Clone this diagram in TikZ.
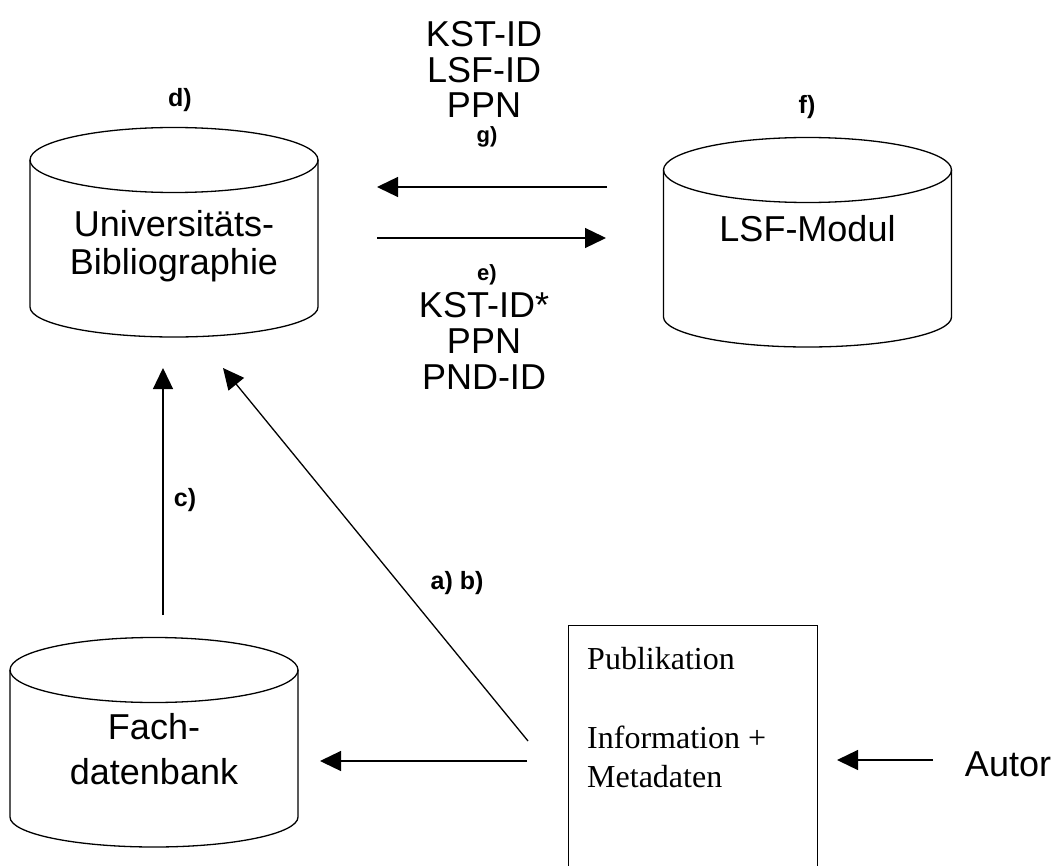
\documentclass[tikz,border=0pt]{standalone}
\usepackage{fontspec}
\setmainfont{Liberation Sans}
\newfontfamily\timesfont{Liberation Serif}
\usetikzlibrary{arrows.meta}
\tikzset{
  db/.style={draw=black, line width=1.3pt},
  flow/.style={draw=black, line width=1.3pt, -{Triangle[length=21pt,width=20pt]}},
  big/.style={font=\fontsize{36}{38}\selectfont, align=center, inner sep=0pt},
  tag/.style={font=\fontsize{25}{25}\selectfont\bfseries, inner sep=0pt},
  tags/.style={font=\fontsize{22}{22}\selectfont\bfseries, inner sep=0pt},
  pubbox/.style={draw=black, line width=1.3pt, minimum width=249pt, minimum height=270pt, anchor=north west, inner sep=0pt},
  pubtext/.style={font=\fontsize{32}{39}\timesfont, align=left, inner sep=0pt, anchor=base west},
}
\begin{document}
\begin{tikzpicture}[x=1pt,y=-1pt]
  \useasboundingbox (0,0) rectangle (1059,866);

  % databases
  \foreach \cx/\cy in {174/160, 807.5/170, 154/670}{
    \draw[db] (\cx-144,\cy) -- (\cx-144,\cy+147)
      arc[start angle=180, end angle=360, x radius=144pt, y radius=30pt]
      -- (\cx+144,\cy);
    \draw[db] (\cx,\cy) ellipse [x radius=144pt, y radius=32.5pt];
  }
  \node[big] (uni) at (174,246) {Universitäts-\\Bibliographie};
  \node[big, anchor=base] (lsf) at (807.5,242) {LSF-Modul};
  \node[big, font=\fontsize{36}{45}\selectfont] (fach) at (154,749.5) {Fach-\\datenbank};

  % publication
  \node[pubbox] (pub) at (568,625) {};
  \node[pubtext] (pubtitle) at (587,669.5) {Publikation};
  \node[pubtext] (pubinfo) at (587,787) {Information +\\Metadaten};
  \node[big, anchor=base] (autor) at (1008,776) {Autor};

  % transferred ids
  \node[big, font=\fontsize{36}{35.5}\selectfont] (sendids) at (484,69.5) {KST-ID\\LSF-ID\\PPN};
  \node[big, font=\fontsize{36}{36}\selectfont] (getids) at (484,341) {KST-ID*\\PPN\\PND-ID};

  % steps
  \node[tag] (d) at (180,100) {d)};
  \node[tag] (f) at (807,107) {f)};
  \node[tags, anchor=base] (g) at (487,143) {g)};
  \node[tags] (e) at (487,275) {e)};
  \node[tag] (c) at (185,500) {c)};
  \node[tag] (ab) at (457,583) {a) b)};

  \coordinate (gfrom) at (607,187);  \coordinate (gto) at (377,187);
  \coordinate (efrom) at (377,238);  \coordinate (eto) at (606,238);
  \coordinate (cfrom) at (163,615);  \coordinate (cto) at (163,368);
  \coordinate (abfrom) at (528,741); \coordinate (abto) at (223,368);
  \coordinate (fdfrom) at (527,761); \coordinate (fdto) at (320,761);
  \coordinate (aufrom) at (933,760); \coordinate (auend) at (837,760);

  \draw[flow] (gfrom) -- (gto);
  \draw[flow] (efrom) -- (eto);
  \draw[flow] (cfrom) -- (cto);
  \draw[flow] (abfrom) -- (abto);
  \draw[flow] (fdfrom) -- (fdto);
  \draw[flow] (aufrom) -- (auend);
\end{tikzpicture}
\end{document}
